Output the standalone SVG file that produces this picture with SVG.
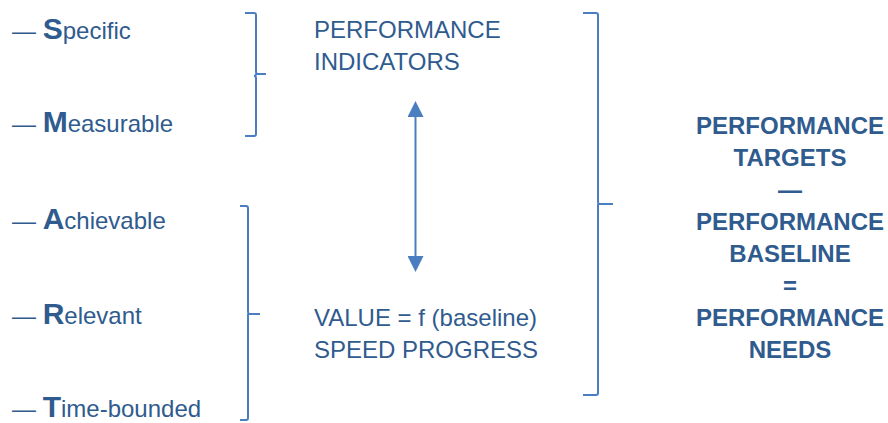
<svg xmlns="http://www.w3.org/2000/svg" width="888" height="423" viewBox="0 0 888 423">
<defs>
<style>
text{font-family:"Liberation Sans",Arial,sans-serif;fill:#2F5B8E;font-size:24px}
.big{font-weight:bold;font-size:30px}
.bold{font-weight:bold;text-anchor:middle}
.br{fill:none;stroke:#4A7EC0;stroke-width:2}
.ar{stroke:#4A7EC0;stroke-width:2}
</style>
<marker id="ah" viewBox="0 0 16 16" refX="1" refY="8" markerWidth="16" markerHeight="16" markerUnits="userSpaceOnUse" orient="auto-start-reverse">
<path d="M0,0 L16,8 L0,16 Z" fill="#4A7EC0"/>
</marker>
</defs>
<rect width="888" height="423" fill="#ffffff"/>
<g id="smart-list">
<g id="specific"><text x="12" y="39">— <tspan class="big">S</tspan>pecific</text></g>
<g id="measurable"><text x="12" y="132">— <tspan class="big">M</tspan>easurable</text></g>
<g id="achievable"><text x="12" y="229">— <tspan class="big">A</tspan>chievable</text></g>
<g id="relevant"><text x="12" y="324">— <tspan class="big">R</tspan>elevant</text></g>
<g id="time-bounded"><text x="12" y="417">— <tspan class="big">T</tspan>ime-bounded</text></g>
</g>
<g id="indicators"><text x="314" y="38">PERFORMANCE</text><text x="314" y="70">INDICATORS</text></g>
<g id="value"><text x="314" y="326">VALUE = f (baseline)</text><text x="314" y="358">SPEED PROGRESS</text></g>
<g id="needs">
<text class="bold" x="790" y="134">PERFORMANCE</text>
<text class="bold" x="790" y="166">TARGETS</text>
<text class="bold" x="790" y="198">—</text>
<text class="bold" x="790" y="230">PERFORMANCE</text>
<text class="bold" x="790" y="262">BASELINE</text>
<text class="bold" x="790" y="294">=</text>
<text class="bold" x="790" y="326">PERFORMANCE</text>
<text class="bold" x="790" y="358">NEEDS</text>
</g>
<g id="connectors">
<path class="br" d="M245,13 H254 Q256,13 256,15 V72 Q256,74 258,74 H266 M256,74 Q256,76 254,76 Q256,76 256,78 V134 Q256,136 254,136 H245"/>
<path class="br" d="M240,206 H246 Q248,206 248,208 V312 Q248,314 250,314 H260 M248,314 Q248,316 248,318 V418 Q248,420 246,420 H240"/>
<path class="br" d="M583,13 H596 Q598,13 598,15 V202 Q598,204 600,204 H613 M598,204 Q598,206 598,208 V393 Q598,395 596,395 H583"/>
<line class="ar" x1="415.5" y1="116" x2="415.5" y2="257" marker-start="url(#ah)" marker-end="url(#ah)"/>
</g>
</svg>
